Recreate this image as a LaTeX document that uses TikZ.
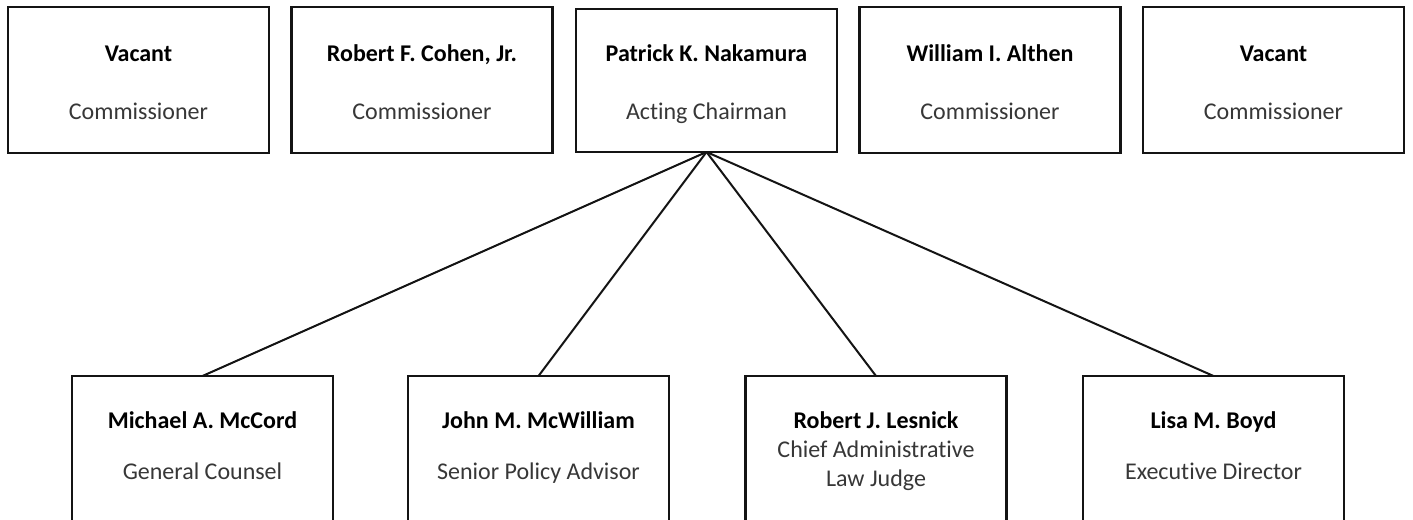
\documentclass[tikz,border=0pt]{standalone}
\usepackage{fontspec}
\setmainfont[Ligatures={NoCommon,NoContextual}]{Carlito}
\definecolor{titlegray}{RGB}{55,55,55}
\definecolor{linegray}{RGB}{20,20,20}
\tikzset{
  px/.style={x=0.75pt,y=-0.75pt},
  box/.style={draw=linegray,line width=1.8pt,rectangle,inner sep=0pt,outer sep=0pt,fill=white},
  topbox/.style={box,minimum width=195.5pt,minimum height=109.5pt},
  botbox/.style={box,minimum width=195.5pt,minimum height=120pt},
  nametext/.style={anchor=base,inner sep=0pt,font=\fontsize{18}{22}\selectfont\bfseries,text=black},
  titletext/.style={anchor=base,inner sep=0pt,font=\fontsize{18}{22}\selectfont,text=titlegray},
  link/.style={draw=linegray,line width=1.5pt}
}
\begin{document}
\begin{tikzpicture}[px]
\useasboundingbox (0,0) rectangle (1413,520);
\clip (0,0) rectangle (1413,520);
\fill[white] (0,0) rectangle (1413,520);
% top row
\node[topbox] (t1) at (138.5,80) {};
\node[topbox] (t2) at (422,80) {};
\node[topbox,minimum height=107.25pt] (t3) at (706.5,80.5) {};
\node[topbox] (t4) at (990,80) {};
\node[topbox] (t5) at (1273.5,80) {};
% bottom row
\node[botbox] (b1) at (202.5,456) {};
\node[botbox] (b2) at (538.5,456) {};
\node[botbox] (b3) at (876,456) {};
\node[botbox] (b4) at (1213.5,456) {};
% connectors
\draw[link] (t3.south) -- (b1.north);
\draw[link] (t3.south) -- (b2.north);
\draw[link] (t3.south) -- (b3.north);
\draw[link] (t3.south) -- (b4.north);
% top texts
\node[nametext] (t1n) at (138.5,62) {Vacant};
\node[titletext] (t1t) at (138.5,120) {Commissioner};
\node[nametext] (t2n) at (422,62) {Robert F. Cohen, Jr.};
\node[titletext] (t2t) at (422,120) {Commissioner};
\node[nametext] (t3n) at (706.5,62) {Patrick K. Nakamura};
\node[titletext] (t3t) at (706.5,120) {Acting Chairman};
\node[nametext] (t4n) at (990,62) {William I. Althen};
\node[titletext] (t4t) at (990,120) {Commissioner};
\node[nametext] (t5n) at (1273.5,62) {Vacant};
\node[titletext] (t5t) at (1273.5,120) {Commissioner};
% bottom texts
\node[nametext] (b1n) at (202.5,428) {Michael A. McCord};
\node[titletext] (b1t) at (202.5,479) {General Counsel};
\node[nametext] (b2n) at (538.5,428) {John M. McWilliam};
\node[titletext] (b2t) at (538.5,479) {Senior Policy Advisor};
\node[nametext] (b3n) at (876,428) {Robert J. Lesnick};
\node[titletext] (b3t) at (876,457) {Chief Administrative};
\node[titletext] (b3u) at (876,486) {Law Judge};
\node[nametext] (b4n) at (1213.5,428) {Lisa M. Boyd};
\node[titletext] (b4t) at (1213.5,479) {Executive Director};
\end{tikzpicture}
\end{document}
